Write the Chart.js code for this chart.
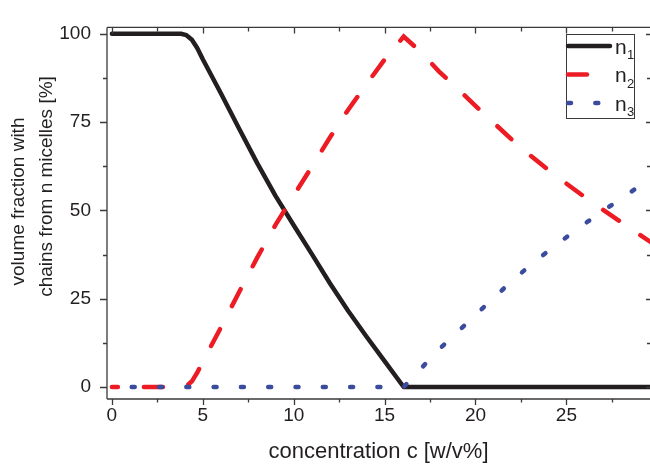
<!DOCTYPE html>
<html>
<head>
<meta charset="utf-8">
<script src="https://cdn.jsdelivr.net/npm/chart.js@4.4.1/dist/chart.umd.min.js"></script>
<style>
  html, body { margin: 0; padding: 0; background: #fff; }
</style>
</head>
<body>
<canvas id="micelles" width="650" height="465"></canvas>
<script>
// concentration c [w/v%] and volume fractions [%]
var conc = [0, 1, 2, 3, 3.8, 4.1, 4.4, 4.7, 5, 6, 7, 8, 9, 10, 11, 12, 13, 14, 15, 16.05,
            17, 18, 19, 20, 21, 22, 23, 24, 25, 26, 27, 28, 29, 29.7];
var n1 = [100, 100, 100, 100, 100, 99.6, 98.3, 95.9, 92.8, 83.1, 73.1, 63.3, 54.1, 45.8, 37.6, 29.3, 21.5, 14.3, 7.3, 0,
          0, 0, 0, 0, 0, 0, 0, 0, 0, 0, 0, 0, 0, 0];
var n2 = [0, 0, 0, 0, 0, 0.3, 1.6, 4.1, 7.2, 16.9, 26.9, 36.7, 45.9, 54.2, 62.4, 70.7, 78.5, 85.7, 92.7, 99.2,
          94.8, 89.3, 84.5, 79.6, 74.8, 70.0, 65.6, 61.5, 57.6, 53.8, 50.2, 46.7, 43.2, 40.8];
var n3 = [0, 0, 0, 0, 0, 0, 0, 0, 0, 0, 0, 0, 0, 0, 0, 0, 0, 0, 0, 0,
          5.2, 10.7, 15.5, 20.4, 25.2, 30.0, 34.4, 38.5, 42.4, 46.2, 49.8, 53.3, 56.8, 59.2];
var xTicks = [0, 5, 10, 15, 20, 25];
var yTicks = [0, 25, 50, 75, 100];
var seriesSubs = ['1', '2', '3'];

var ink = '#231f20';
var axisColor = '#3a3a3a';
var family = "'Liberation Sans', Arial, sans-serif";

function pts(ys) {
  return conc.map(function(c, i) { return {x: c, y: ys[i]}; });
}

// box frame + ticks, y title and the legend box
var framePlugin = {
  id: 'frame',
  afterDraw: function(chart) {
    var ctx = chart.ctx, a = chart.chartArea;
    var xs = chart.scales.x, ys = chart.scales.y;
    ctx.save();
    ctx.strokeStyle = axisColor;
    ctx.lineWidth = 1.3;
    ctx.setLineDash([]);
    ctx.beginPath();
    ctx.moveTo(a.left, a.top); ctx.lineTo(a.right + 2, a.top);
    ctx.moveTo(a.left, a.top); ctx.lineTo(a.left, a.bottom);
    ctx.moveTo(a.left, a.bottom); ctx.lineTo(a.right + 2, a.bottom);

    var xMinor = xTicks.map(function(v) { return v + 2.5; }).filter(function(v) { return v < xs.max; });
    var yMinor = yTicks.map(function(v) { return v + 12.5; }).filter(function(v) { return v < ys.max; });
    function xt(v, len, inLen) {
      var p = Math.round(xs.getPixelForValue(v)) + 0.5;
      ctx.moveTo(p, a.bottom); ctx.lineTo(p, a.bottom + len);
      ctx.moveTo(p, a.top); ctx.lineTo(p, a.top + inLen);
    }
    function yt(v, len, inLen) {
      var p = Math.round(ys.getPixelForValue(v)) + 0.5;
      ctx.moveTo(a.left, p); ctx.lineTo(a.left - len, p);
      ctx.moveTo(a.right, p); ctx.lineTo(a.right - inLen, p);
    }
    xTicks.forEach(function(v) { xt(v, 6, 6); });
    xMinor.forEach(function(v) { xt(v, 3.5, 4); });
    yTicks.forEach(function(v) { yt(v, 7, 4); });
    yMinor.forEach(function(v) { yt(v, 4, 3); });
    ctx.stroke();

    // y axis title, two lines
    ctx.fillStyle = ink;
    ctx.font = '19px ' + family;
    ctx.textAlign = 'center';
    ctx.textBaseline = 'middle';
    ctx.save();
    ctx.translate(19, 201.5);
    ctx.rotate(-Math.PI / 2);
    ctx.fillText('volume fraction with', 0, 0);
    ctx.restore();
    ctx.save();
    ctx.translate(47, 186.5);
    ctx.rotate(-Math.PI / 2);
    ctx.fillText('chains from n micelles [%]', 0, 0);
    ctx.restore();

    // legend
    var bx = 566, by = 34, bw = 68, bh = 84;
    ctx.fillStyle = '#fff';
    ctx.fillRect(bx, by, bw, bh);
    ctx.lineWidth = 1;
    ctx.strokeStyle = axisColor;
    ctx.strokeRect(bx + 0.5, by + 0.5, bw, bh);
    chart.data.datasets.forEach(function(ds, i) {
      var ly = 46 + i * 28.5;
      ctx.save();
      ctx.strokeStyle = ds.borderColor;
      ctx.lineWidth = ds.borderWidth;
      ctx.lineCap = 'round';
      ctx.setLineDash(ds.borderDash || []);
      ctx.lineDashOffset = 0;
      ctx.beginPath();
      ctx.moveTo(568, ly);
      ctx.lineTo(610, ly);
      ctx.stroke();
      ctx.restore();
      ctx.fillStyle = ink;
      ctx.textAlign = 'left';
      ctx.textBaseline = 'alphabetic';
      ctx.font = '21px ' + family;
      ctx.fillText('n', 615, ly + 7.5);
      ctx.font = '13px ' + family;
      ctx.fillText(seriesSubs[i], 627, ly + 13);
    });
    ctx.restore();
  }
};

new Chart('micelles', {
  type: 'line',
  data: {
    datasets: [
      {
        label: 'n1',
        data: pts(n1),
        borderColor: ink,
        borderWidth: 4.5,
        pointRadius: 0,
        tension: 0,
        borderCapStyle: 'round',
        borderJoinStyle: 'round',
        order: 3
      },
      {
        label: 'n2',
        data: pts(n2),
        borderColor: '#ed1c24',
        borderWidth: 4.5,
        borderDash: [19, 26],
        borderDashOffset: 13,
        pointRadius: 0,
        tension: 0,
        borderCapStyle: 'round',
        order: 2
      },
      {
        label: 'n3',
        data: pts(n3),
        borderColor: '#3b4c9e',
        borderWidth: 4.5,
        borderDash: [3, 24.3],
        borderDashOffset: 7.5,
        pointRadius: 0,
        tension: 0,
        borderCapStyle: 'round',
        order: 1
      }
    ]
  },
  options: {
    responsive: false,
    animation: false,
    devicePixelRatio: 1,
    layout: { padding: { top: 14, right: 0, left: 0, bottom: 0 } },
    plugins: {
      legend: { display: false },
      tooltip: { enabled: false }
    },
    scales: {
      x: {
        type: 'linear',
        min: -0.27,
        max: 29.6,
        grid: { display: false, drawTicks: false },
        border: { display: false },
        afterBuildTicks: function(s) { s.ticks = xTicks.map(function(v) { return {value: v}; }); },
        afterFit: function(s) { s.height = 66; },
        ticks: { padding: 5, color: ink, maxRotation: 0, font: { family: family, size: 19 } },
        title: {
          display: true,
          text: 'concentration c [w/v%]',
          color: ink,
          padding: 0,
          font: { family: family, size: 22 }
        }
      },
      y: {
        min: -3.4,
        max: 101.8,
        grid: { display: false, drawTicks: false },
        border: { display: false },
        afterBuildTicks: function(s) { s.ticks = yTicks.map(function(v) { return {value: v}; }); },
        afterFit: function(s) { s.width = 107; },
        ticks: { padding: 16, color: ink, font: { family: family, size: 19 } }
      }
    }
  },
  plugins: [framePlugin]
});
</script>
</body>
</html>
